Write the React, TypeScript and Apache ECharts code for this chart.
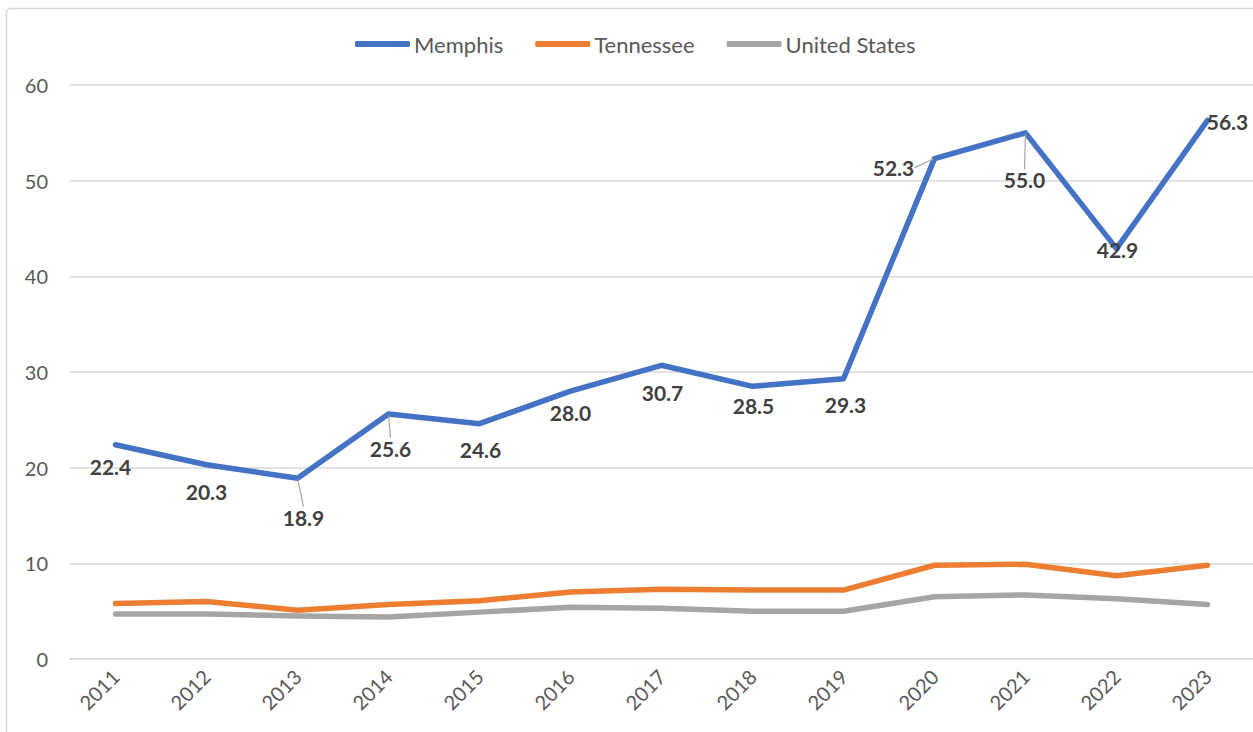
import React, { useEffect, useRef } from "react";
import * as echarts from "echarts";

const years = ["2011", "2012", "2013", "2014", "2015", "2016", "2017", "2018", "2019", "2020", "2021", "2022", "2023"];
const memphis = [22.4, 20.3, 18.9, 25.6, 24.6, 28.0, 30.7, 28.5, 29.3, 52.3, 55.0, 42.9, 56.3];
const tennessee = [5.8, 6.0, 5.1, 5.7, 6.1, 7.0, 7.3, 7.2, 7.2, 9.8, 9.9, 8.7, 9.8];
const unitedStates = [4.7, 4.7, 4.5, 4.4, 4.9, 5.4, 5.3, 5.0, 5.0, 6.5, 6.7, 6.3, 5.7];
const yTicks = { min: 0, max: 60, interval: 10 };

// label displacement (px) relative to each Memphis point, and whether a leader line is drawn
const labelShift: [number, number][] = [
  [-5, 22], [0, 27], [6, 39], [2, 34], [1, 26], [0, 21], [1, 27], [1, 19], [2, 26], [-41, 9], [-1, 47], [1, 1], [20, 1],
];
const leader = [false, false, true, true, false, false, false, false, false, true, true, false, false];

const FONT = "Lato, 'Open Sans', sans-serif";

export default function App() {
  const ref = useRef<HTMLDivElement>(null);
  useEffect(() => {
    if (!ref.current) return;
    const chart = echarts.init(ref.current, null, { renderer: "svg" });
    chart.setOption({
      animation: false,
      backgroundColor: "#ffffff",
      textStyle: { fontFamily: FONT },
      graphic: [
        {
          type: "rect",
          shape: { x: 6.5, y: 8.5, width: 1270, height: 760, r: 4 },
          style: { fill: "none", stroke: "#d9d9d9", lineWidth: 1.5 },
          silent: true,
          z: -10,
        },
      ],
      legend: {
        top: 28,
        left: 350,
        icon: "roundRect",
        itemWidth: 55,
        itemHeight: 6,
        itemGap: 32,
        textStyle: { color: "#595959", fontSize: 22, fontFamily: FONT, padding: [0, 0, 0, -1] },
        data: ["Memphis", "Tennessee", "United States"],
      },
      grid: { left: 70, top: 85, width: 1183, height: 574, containLabel: false },
      xAxis: {
        type: "category",
        data: years,
        boundaryGap: true,
        axisLine: { show: true, lineStyle: { color: "#d9d9d9", width: 1.5 } },
        axisTick: { show: false },
        axisLabel: { rotate: 45, color: "#595959", fontSize: 20, fontFamily: FONT, margin: 14, interval: 0 },
      },
      yAxis: {
        type: "value",
        min: yTicks.min,
        max: yTicks.max,
        interval: yTicks.interval,
        axisLine: { show: false },
        axisTick: { show: false },
        splitLine: { lineStyle: { color: "#d9d9d9", width: 1.5 } },
        axisLabel: { color: "#595959", fontSize: 20, fontFamily: FONT, margin: 22 },
      },
      series: [
        {
          name: "Memphis",
          type: "line",
          data: memphis.map((v, i) => ({
            value: v,
            labelLine: { show: leader[i] },
          })),
          symbol: "circle",
          symbolSize: 2,
          showSymbol: true,
          itemStyle: { color: "#4472C4" },
          lineStyle: { color: "#4472C4", width: 5.5, cap: "round", join: "round" },
          label: {
            show: true,
            position: "inside",
            formatter: (p: any) => Number(p.value).toFixed(1),
            color: "#404040",
            fontWeight: "bold",
            fontSize: 21,
            fontFamily: FONT,
          },
          labelLine: { show: false, lineStyle: { color: "#a6a6a6", width: 1.2 } },
          labelLayout: (params: any) => {
            const s = labelShift[params.dataIndex] || [0, 0];
            return { dx: s[0], dy: s[1] };
          },
          z: 5,
        },
        {
          name: "Tennessee",
          type: "line",
          data: tennessee,
          symbol: "none",
          itemStyle: { color: "#ED7D31" },
          lineStyle: { color: "#ED7D31", width: 5.5, cap: "round", join: "round" },
          z: 4,
        },
        {
          name: "United States",
          type: "line",
          data: unitedStates,
          symbol: "none",
          itemStyle: { color: "#A5A5A5" },
          lineStyle: { color: "#A5A5A5", width: 5.5, cap: "round", join: "round" },
          z: 3,
        },
      ],
    });
    return () => chart.dispose();
  }, []);
  return (
    <div
      ref={ref}
      style={{ position: "absolute", left: 0, top: 0, width: 1253, height: 732, background: "#fff" }}
    />
  );
}
